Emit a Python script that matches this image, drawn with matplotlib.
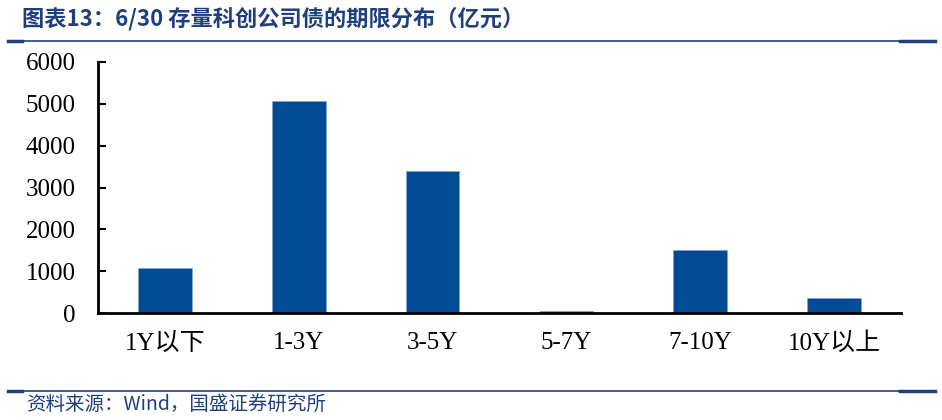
import matplotlib.pyplot as plt
from matplotlib.lines import Line2D

# Data (亿元)
categories = ['1Y以下', '1-3Y', '3-5Y', '5-7Y', '7-10Y', '10Y以上']
values = [1070, 5060, 3400, 55, 1510, 360]
y_ticks = [0, 1000, 2000, 3000, 4000, 5000, 6000]

title = '图表13：6/30 存量科创公司债的期限分布（亿元）'
source = '资料来源：Wind，国盛证券研究所'

bar_color = '#004B93'
frame_color = '#1F3F7F'

plt.rcParams['font.family'] = ['Liberation Serif', 'Noto Sans CJK SC']

fig = plt.figure(figsize=(9.42, 4.2), dpi=100)
W, H = 942, 420

# Axes area: x from 98 to 901 px, y from 62 (6000) to 313 (0)
ax = fig.add_axes([98 / W, 1 - 313 / H, (901 - 98) / W, (313 - 62) / H])
x = list(range(len(categories)))
ax.bar(x, values, width=0.4, color=bar_color, edgecolor='#7FA6D0', linewidth=0.4)
ax.set_xlim(-0.5, len(categories) - 0.5)
ax.set_ylim(0, 6000)
ax.set_yticks(y_ticks)
ax.set_yticklabels([str(t) for t in y_ticks], fontsize=18)
ax.set_xticks(x)
ax.set_xticklabels(categories, fontsize=18)
ax.tick_params(axis='y', direction='in', length=6, width=1.5, pad=16)
ax.tick_params(axis='x', length=0, pad=14)
ax.spines['top'].set_visible(False)
ax.spines['right'].set_visible(False)
ax.spines['left'].set_linewidth(2)
ax.spines['bottom'].set_linewidth(2)

# Title and rules
fig.text(22 / W, 1 - 19 / H, title, fontsize=16, color=frame_color, style='italic',
         fontweight='bold', family=['Noto Sans CJK SC', 'DejaVu Sans'], va='center')
for yy in (41, 391):
    fig.add_artist(Line2D([8 / W, 935 / W], [1 - yy / H] * 2, color=frame_color, lw=1.2))
    fig.add_artist(Line2D([8 / W, 22 / W], [1 - yy / H] * 2, color=frame_color, lw=2.5))
    fig.add_artist(Line2D([900 / W, 935 / W], [1 - yy / H] * 2, color=frame_color, lw=2.5))

fig.text(26 / W, 1 - 404 / H, source, fontsize=14, color=frame_color, style='italic',
         family=['Noto Sans CJK SC', 'DejaVu Sans'], va='center')

fig.savefig('out.png', dpi=100)
